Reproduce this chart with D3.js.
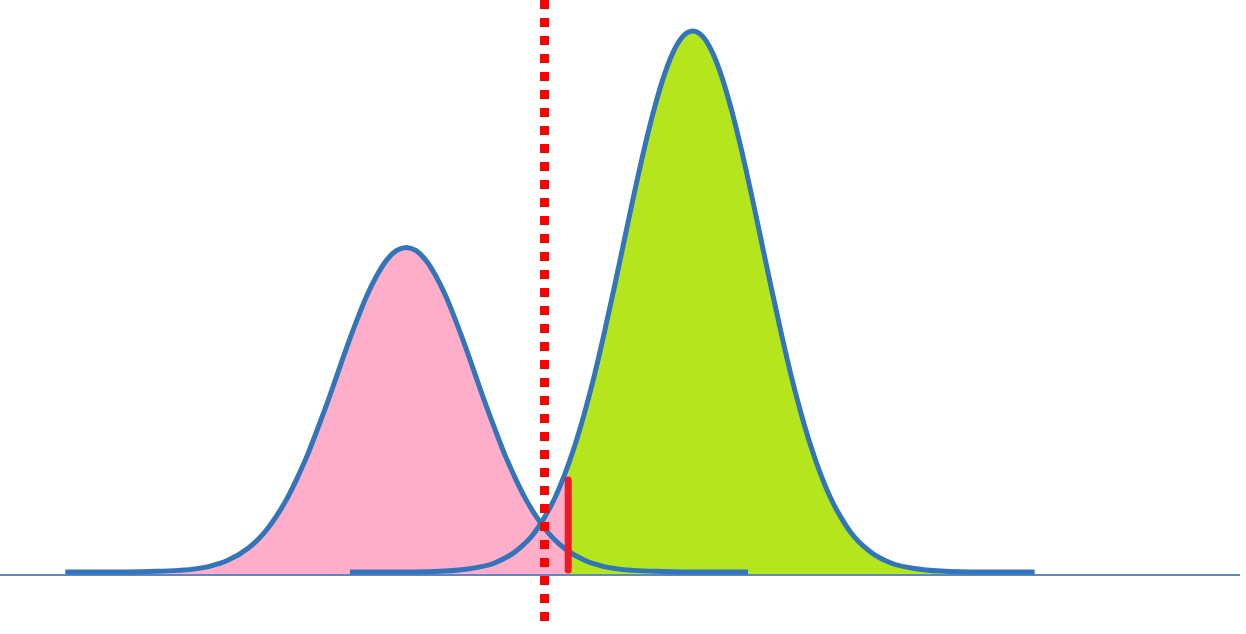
<!DOCTYPE html>
<html>
<head>
<meta charset="utf-8">
<script src="https://cdn.jsdelivr.net/npm/d3@7"></script>
<style>
  html, body { margin: 0; padding: 0; background: #ffffff; }
  svg { display: block; }
</style>
</head>
<body>
<div id="chart"></div>
<script>
// ---- data ----
const pinkX = [5.5, 10, 14, 17, 20, 22, 24,
  25, 26, 27, 28, 29, 30, 31, 32, 33, 34, 35, 36, 37, 38, 39, 40,
  41, 42, 43, 44, 45, 46, 47, 48, 49, 50, 51, 52, 53, 54, 55,
  56, 58, 60, 63, 66, 70, 74.6];
const pinkY = [0, 0, 0.001, 0.003, 0.010, 0.022, 0.044,
  0.060, 0.081, 0.107, 0.138, 0.175, 0.216, 0.263, 0.312, 0.364, 0.416, 0.465, 0.510, 0.547, 0.576, 0.594, 0.600,
  0.594, 0.576, 0.547, 0.510, 0.465, 0.416, 0.364, 0.312, 0.263, 0.216, 0.175, 0.138, 0.107, 0.081, 0.060,
  0.044, 0.022, 0.010, 0.003, 0.001, 0, 0];

const greenX = [34.3, 39, 43, 46, 49, 51, 53,
  54, 55, 56, 57, 58, 59, 60, 61, 62, 63, 64, 65, 66, 67, 68, 69,
  70, 71, 72, 73, 74, 75, 76, 77, 78, 79, 80, 81, 82, 83, 84,
  85, 87, 89, 92, 95, 99, 103.6];
const greenY = [0, 0, 0.001, 0.005, 0.017, 0.037, 0.073,
  0.101, 0.135, 0.178, 0.230, 0.291, 0.360, 0.438, 0.521, 0.607, 0.693, 0.775, 0.849, 0.912, 0.960, 0.990, 1.000,
  0.990, 0.960, 0.912, 0.849, 0.775, 0.693, 0.607, 0.521, 0.438, 0.360, 0.291, 0.230, 0.178, 0.135, 0.101,
  0.073, 0.037, 0.017, 0.005, 0.001, 0, 0];

const criterionX = 54.0;      // dotted red line
const thresholdX = 56.4;      // solid red line (colour split)
const thresholdTop = 0.17;

// ---- layout ----
const W = 1246, H = 634;
const x = d3.scaleLinear().domain([0, 125]).range([11, 1246]);
const y = d3.scaleLinear().domain([0, 1]).range([572, 31]);

const svg = d3.select("#chart").append("svg")
  .attr("width", W).attr("height", H);

const pink = pinkX.map((v, i) => ({x: v, y: pinkY[i]}));
const green = greenX.map((v, i) => ({x: v, y: greenY[i]}));

const defs = svg.append("defs");
defs.append("clipPath").attr("id", "clipL").append("rect")
  .attr("x", 0).attr("y", 0).attr("width", x(thresholdX)).attr("height", H);
defs.append("clipPath").attr("id", "clipR").append("rect")
  .attr("x", x(thresholdX)).attr("y", 0).attr("width", W - x(thresholdX)).attr("height", H);

const area = d3.area()
  .x(d => x(d.x)).y0(y(0) + 2.5).y1(d => y(d.y))
  .curve(d3.curveMonotoneX);
const line = d3.line()
  .x(d => x(d.x)).y(d => y(d.y))
  .curve(d3.curveMonotoneX);

// fills
const gl = svg.append("g").attr("clip-path", "url(#clipL)");
gl.append("path").attr("d", area(pink)).attr("fill", "#ffaec9");
gl.append("path").attr("d", area(green)).attr("fill", "#ffaec9");
const gr = svg.append("g").attr("clip-path", "url(#clipR)");
gr.append("path").attr("d", area(green)).attr("fill", "#b5e61d");

// axis baseline
svg.append("line")
  .attr("x1", 0).attr("x2", 1240)
  .attr("y1", 575).attr("y2", 575)
  .attr("stroke", "#5b87cf").attr("stroke-width", 2);

// curves
[pink, green].forEach(s => {
  svg.append("path").attr("d", line(s))
    .attr("fill", "none")
    .attr("stroke", "#3275ba")
    .attr("stroke-width", 5)
    .attr("stroke-linejoin", "round")
    .attr("stroke-linecap", "butt");
});

// solid red threshold line
svg.append("line")
  .attr("x1", x(thresholdX)).attr("x2", x(thresholdX))
  .attr("y1", y(thresholdTop)).attr("y2", y(0) - 2)
  .attr("stroke", "#ed1c24").attr("stroke-width", 7)
  .attr("stroke-linecap", "round");

// dotted red criterion line
svg.append("line")
  .attr("x1", x(criterionX)).attr("x2", x(criterionX))
  .attr("y1", 0).attr("y2", 621)
  .attr("stroke", "#ff0000").attr("stroke-width", 9)
  .attr("stroke-dasharray", "9,9");
</script>
</body>
</html>
